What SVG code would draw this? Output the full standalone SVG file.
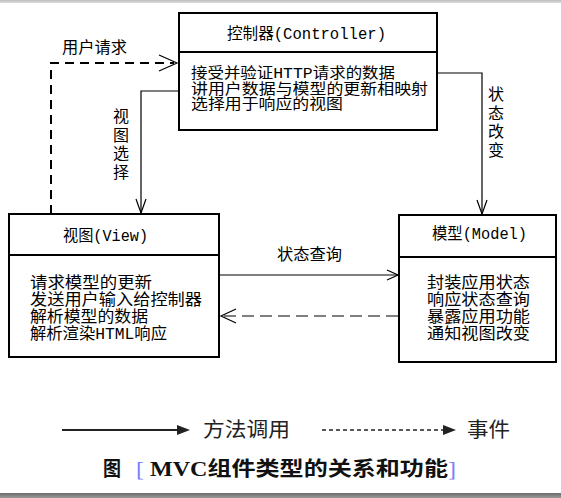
<svg xmlns="http://www.w3.org/2000/svg" width="561" height="498" viewBox="0 0 561 498">
<defs>
<linearGradient id="topband" x1="0" y1="0" x2="0" y2="1"><stop offset="0" stop-color="#bdbdbd"/><stop offset="1" stop-color="#dcdcdc"/></linearGradient>
<linearGradient id="botband" x1="0" y1="0" x2="0" y2="1"><stop offset="0" stop-color="#6a6a6a"/><stop offset="1" stop-color="#9a9a9a"/></linearGradient>
</defs>
<style>
.box{fill:#fff;stroke:#000;stroke-width:2}
.div{stroke:#000;stroke-width:2}
.t{font-family:"Liberation Mono","Noto Sans CJK SC",monospace;font-size:16px;fill:#000}
.s{font-family:"Liberation Mono","Noto Sans CJK SC",monospace;font-size:15px;fill:#000}
.v{font-family:"Noto Sans CJK SC",sans-serif;font-size:16px;fill:#000;writing-mode:vertical-rl;letter-spacing:2.5px}
.c{stroke:#000;stroke-width:1.2;fill:none}
.d{stroke:#000;stroke-width:1.2;fill:none;stroke-dasharray:12 6}
.d2{stroke:#000;stroke-width:2;fill:none;stroke-dasharray:9 6}
.lg{font-family:"Noto Sans CJK SC",sans-serif;font-size:20px;fill:#222}
.cap{font-family:"Liberation Serif","Noto Sans CJK SC",serif;font-size:20px;font-weight:bold;fill:#111}
.br{fill:#7a7aff;font-weight:normal}
</style>
<rect x="0" y="0" width="561" height="3" fill="url(#topband)"/>
<rect x="0" y="493" width="561" height="5" fill="url(#botband)"/>

<g id="connectors">
<path class="d2" d="M51,214 V63 H174"/>
<polyline class="c" points="159,55 177,63 159,71"/>
<text class="t" x="62" y="53" textLength="65" lengthAdjust="spacingAndGlyphs">用户请求</text>
<path class="c" d="M178,91 H141 V213"/>
<polyline class="c" points="136,199 141,213 146,199"/>
<text class="v" x="121" y="108">视图选择</text>
<path class="c" d="M437,73 H482 V214"/>
<polyline class="c" points="477,200 482,214 487,200"/>
<text class="v" x="496" y="86">状态改变</text>
<path class="c" d="M220,275 H398"/>
<polyline class="c" points="387,270 398,275 387,280"/>
<text class="t" x="277" y="260" textLength="65" lengthAdjust="spacingAndGlyphs">状态查询</text>
<path class="d" d="M398,316 H222"/>
<polyline class="c" points="236,309 221,316 236,323"/>
</g>

<g id="controller">
<rect class="box" x="179" y="13" width="258" height="117"/>
<line class="div" x1="179" y1="52" x2="437" y2="52"/>
<text class="t" x="227" y="39" textLength="159" lengthAdjust="spacingAndGlyphs">控制器(Controller)</text>
<text class="s" x="191" y="78" textLength="204" lengthAdjust="spacingAndGlyphs">接受并验证HTTP请求的数据</text>
<text class="s" x="191" y="93.5" textLength="237" lengthAdjust="spacingAndGlyphs">讲用户数据与模型的更新相映射</text>
<text class="s" x="191" y="109" textLength="152" lengthAdjust="spacingAndGlyphs">选择用于响应的视图</text>
</g>

<g id="view">
<rect class="box" x="9" y="214" width="210" height="143"/>
<line class="div" x1="9" y1="255" x2="219" y2="255"/>
<text class="t" x="63" y="241" textLength="85" lengthAdjust="spacingAndGlyphs">视图(View)</text>
<text class="t" x="30" y="288" textLength="122" lengthAdjust="spacingAndGlyphs">请求模型的更新</text>
<text class="t" x="30" y="305" textLength="172" lengthAdjust="spacingAndGlyphs">发送用户输入给控制器</text>
<text class="t" x="30" y="322" textLength="118" lengthAdjust="spacingAndGlyphs">解析模型的数据</text>
<text class="t" x="30" y="339" textLength="137" lengthAdjust="spacingAndGlyphs">解析渲染HTML响应</text>
</g>

<g id="model">
<rect class="box" x="399" y="215" width="157" height="147"/>
<line class="div" x1="399" y1="257" x2="556" y2="257"/>
<text class="t" x="432" y="239" textLength="95" lengthAdjust="spacingAndGlyphs">模型(Model)</text>
<text class="t" x="427" y="288" textLength="103" lengthAdjust="spacingAndGlyphs">封装应用状态</text>
<text class="t" x="427" y="305" textLength="103" lengthAdjust="spacingAndGlyphs">响应状态查询</text>
<text class="t" x="427" y="322" textLength="103" lengthAdjust="spacingAndGlyphs">暴露应用功能</text>
<text class="t" x="427" y="339" textLength="103" lengthAdjust="spacingAndGlyphs">通知视图改变</text>
</g>

<g id="legend">
<line x1="62" y1="430" x2="178" y2="430" stroke="#222" stroke-width="2"/>
<polygon points="177,425 190,430 177,435" fill="#222"/>
<text class="lg" x="203" y="437" textLength="87" lengthAdjust="spacingAndGlyphs">方法调用</text>
<line x1="322" y1="430" x2="443" y2="430" stroke="#222" stroke-width="1.5" stroke-dasharray="4 3"/>
<polygon points="443,425 456,430 443,435" fill="#222"/>
<text class="lg" x="467" y="437" textLength="43" lengthAdjust="spacingAndGlyphs">事件</text>
</g>

<g id="caption">
<text class="cap" x="103" y="476" textLength="18" lengthAdjust="spacingAndGlyphs">图</text>
<text class="cap" x="136" y="476" textLength="320" lengthAdjust="spacingAndGlyphs"><tspan class="br">[</tspan> MVC组件类型的关系和功能<tspan class="br">]</tspan></text>
</g>
</svg>
